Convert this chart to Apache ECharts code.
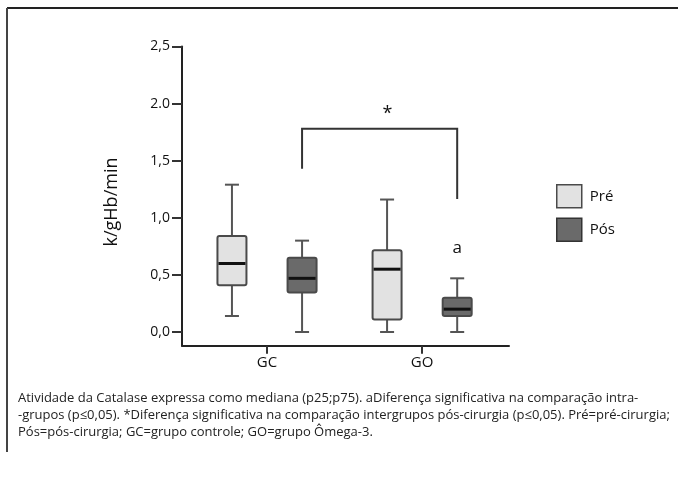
<!DOCTYPE html>
<html>
<head>
<meta charset="utf-8">
<script src="https://cdn.jsdelivr.net/npm/echarts@6/dist/echarts.min.js"></script>
<style>
html,body{margin:0;padding:0;background:#fff;}
#chart{width:678px;height:479px;}
</style>
</head>
<body>
<div id="chart"></div>
<script>
// ---- data ----
const categories = ['GC', 'GO'];
const seriesNames = ['Pré', 'Pós'];
// [min, p25, median, p75, max]
const preStats = [[0.14, 0.41, 0.60, 0.84, 1.29], [0.00, 0.11, 0.55, 0.715, 1.16]];
const posStats = [[0.00, 0.345, 0.47, 0.65, 0.80], [0.00, 0.14, 0.20, 0.30, 0.47]];
const yTicks = [0, 0.5, 1.0, 1.5, 2.0, 2.5];
const yTickLabels = ['0,0', '0,5', '1,0', '1,5', '2.0', '2,5'];
// significance bracket between post-surgery groups
const bracketTop = 1.78, bracketLeftEnd = 1.43, bracketRightEnd = 1.165, starValue = 1.91;
const intraLabelValue = 0.73;
const caption = [
  'Atividade da Catalase expressa como mediana (p25;p75). aDiferença significativa na comparação intra-',
  '-grupos (p≤0,05). *Diferença significativa na comparação intergrupos pós-cirurgia (p≤0,05). Pré=pré-cirurgia;',
  'Pós=pós-cirurgia; GC=grupo controle; GO=grupo Ômega-3.'
];

const FONT = 'Open Sans';
const preFill = '#e2e2e2', posFill = '#6a6a6a', edge = '#4a4a4a';
const OFFSET = 0.226;

function boxData(stats) {
  return stats.map((s, i) => [i + 1].concat(s));
}

function boxRender(offset, fill) {
  return function (params, api) {
    const x = api.value(0) + offset;
    const lo = api.coord([x, api.value(1)]);
    const q1 = api.coord([x, api.value(2)]);
    const md = api.coord([x, api.value(3)]);
    const q3 = api.coord([x, api.value(4)]);
    const hi = api.coord([x, api.value(5)]);
    const halfW = 14.5, capW = 7;
    const lineStyle = { stroke: '#555', lineWidth: 2 };
    return {
      type: 'group',
      children: [
        { type: 'line', shape: { x1: hi[0], y1: hi[1], x2: q3[0], y2: q3[1] }, style: lineStyle },
        { type: 'line', shape: { x1: lo[0], y1: lo[1], x2: q1[0], y2: q1[1] }, style: lineStyle },
        { type: 'line', shape: { x1: hi[0] - capW, y1: hi[1], x2: hi[0] + capW, y2: hi[1] }, style: lineStyle },
        { type: 'line', shape: { x1: lo[0] - capW, y1: lo[1], x2: lo[0] + capW, y2: lo[1] }, style: lineStyle },
        { type: 'rect', shape: { x: q3[0] - halfW, y: q3[1], width: halfW * 2, height: q1[1] - q3[1], r: 2 },
          style: { fill: fill, stroke: edge, lineWidth: 2 } },
        { type: 'line', shape: { x1: md[0] - halfW + 1, y1: md[1], x2: md[0] + halfW - 1, y2: md[1] },
          style: { stroke: '#111', lineWidth: 3 } }
      ]
    };
  };
}

const chart = echarts.init(document.getElementById('chart'), null, { renderer: 'canvas' });
chart.setOption({
  animation: false,
  backgroundColor: '#fff',
  textStyle: { fontFamily: FONT },
  grid: { left: 182, top: 46.5, right: 169, bottom: 133.3, containLabel: false },
  legend: {
    orient: 'vertical', left: 551, top: 179, itemWidth: 25, itemHeight: 23, itemGap: 9,
    icon: 'rect',
    textStyle: { fontFamily: FONT, fontSize: 15, color: '#111', padding: [0, 0, 0, 3] },
    data: [
      { name: seriesNames[0], itemStyle: { color: preFill, borderColor: edge, borderWidth: 1.5 } },
      { name: seriesNames[1], itemStyle: { color: posFill, borderColor: '#333', borderWidth: 1.5 } }
    ]
  },
  xAxis: {
    type: 'value', min: 0.452, max: 2.56,
    splitLine: { show: false },
    axisLine: { show: true, onZero: false, lineStyle: { color: '#222', width: 2 } },
    axisTick: { show: true, customValues: [1, 2], length: 8, lineStyle: { color: '#333', width: 2 } },
    axisLabel: {
      customValues: [1, 2], formatter: v => categories[Math.round(v) - 1] || '',
      fontFamily: FONT, fontSize: 15, color: '#111', margin: 10
    }
  },
  yAxis: {
    type: 'value', min: -0.12, max: 2.5,
    splitLine: { show: false },
    axisLine: { show: true, onZero: false, lineStyle: { color: '#222', width: 2 } },
    axisTick: { show: true, customValues: yTicks, length: 10, lineStyle: { color: '#333', width: 2 } },
    axisLabel: {
      customValues: yTicks,
      formatter: v => { const i = yTicks.findIndex(t => Math.abs(t - v) < 1e-6); return i >= 0 ? yTickLabels[i] : ''; },
      fontFamily: FONT, fontSize: 14, color: '#111', margin: 12
    }
  },
  series: [
    { name: seriesNames[0], type: 'custom', renderItem: boxRender(-OFFSET, preFill),
      itemStyle: { color: preFill }, data: boxData(preStats), encode: { x: 0, y: [1, 2, 3, 4, 5] } },
    { name: seriesNames[1], type: 'custom', renderItem: boxRender(OFFSET, posFill),
      itemStyle: { color: posFill }, data: boxData(posStats), encode: { x: 0, y: [1, 2, 3, 4, 5] } },
    { name: 'bracket', type: 'custom', silent: true,
      data: [[1 + OFFSET, 2 + OFFSET, bracketTop, bracketLeftEnd, bracketRightEnd, starValue, intraLabelValue]],
      renderItem: function (params, api) {
        const x1 = api.value(0), x2 = api.value(1);
        const pTL = api.coord([x1, api.value(2)]), pBL = api.coord([x1, api.value(3)]);
        const pTR = api.coord([x2, api.value(2)]), pBR = api.coord([x2, api.value(4)]);
        const star = api.coord([(x1 + x2) / 2 + 0.05, api.value(5)]);
        const aPt = api.coord([x2, api.value(6)]);
        return {
          type: 'group',
          children: [
            { type: 'polyline', shape: { points: [pBL, pTL, pTR, pBR] },
              style: { stroke: '#333', lineWidth: 2, fill: null } },
            { type: 'text', style: { x: star[0], y: star[1], text: '*', fontFamily: FONT, fontSize: 18,
              fill: '#111', align: 'center', verticalAlign: 'middle' } },
            { type: 'text', style: { x: aPt[0], y: aPt[1], text: 'a', fontFamily: FONT, fontSize: 17,
              fill: '#111', align: 'center', verticalAlign: 'middle' } }
          ]
        };
      }
    }
  ],
  graphic: [
    { type: 'line', shape: { x1: 7, y1: 8, x2: 678, y2: 8 }, style: { stroke: '#222', lineWidth: 2 } },
    { type: 'line', shape: { x1: 7, y1: 8, x2: 7, y2: 452 }, style: { stroke: '#444', lineWidth: 2 } },
    { type: 'text', x: 112, y: 202, rotation: Math.PI / 2,
      style: { text: 'k/gHb/min', fontFamily: FONT, fontSize: 18, fill: '#111', align: 'center', verticalAlign: 'middle' } },
    { type: 'text', left: 18, top: 390,
      style: { text: caption.join('\n'), fontFamily: FONT, fontSize: 13, lineHeight: 17, fill: '#222' } }
  ]
});
</script>
</body>
</html>
